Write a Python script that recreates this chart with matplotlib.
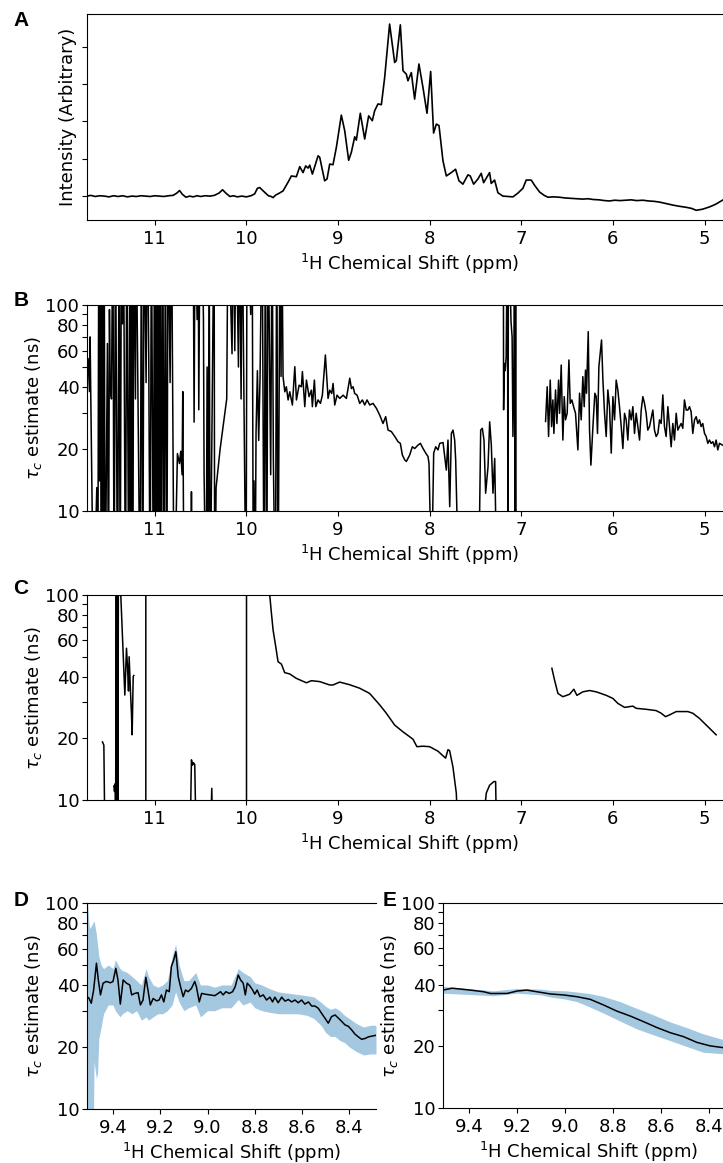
import numpy as np
import matplotlib
matplotlib.use("Agg")
import matplotlib.pyplot as plt
from matplotlib.ticker import FixedLocator, NullFormatter

nan = np.nan

# ---- Panel A: 1D spectrum (ppm, intensity)
a_ppm = [11.74, 11.70, 11.65, 11.60, 11.55, 11.50, 11.45, 11.40, 11.35, 11.30, 11.25, 11.20,
         11.15, 11.10, 11.05, 11.00, 10.95, 10.90, 10.85, 10.80, 10.76, 10.73, 10.70, 10.66,
         10.62, 10.58, 10.54, 10.50, 10.45, 10.40, 10.35, 10.30, 10.26, 10.22, 10.18, 10.14,
         10.10, 10.05, 10.00, 9.95, 9.91, 9.88, 9.855, 9.83, 9.80, 9.76, 9.73, 9.709, 9.68,
         9.64, 9.600, 9.546, 9.509, 9.455, 9.418, 9.382, 9.353, 9.327, 9.309, 9.280, 9.218,
         9.200, 9.146, 9.120, 9.091, 9.055, 9.018, 8.964, 8.927, 8.884, 8.855, 8.818, 8.800,
         8.757, 8.709, 8.666, 8.626, 8.600, 8.564, 8.527, 8.491, 8.437, 8.382, 8.364, 8.320,
         8.291, 8.255, 8.237, 8.200, 8.164, 8.117, 8.073, 8.029, 7.989, 7.957, 7.927, 7.898,
         7.855, 7.818, 7.764, 7.717, 7.680, 7.637, 7.582, 7.557, 7.520, 7.473, 7.437, 7.411,
         7.346, 7.328, 7.291, 7.255, 7.200, 7.150, 7.091, 7.037, 6.982, 6.946, 6.891, 6.855,
         6.800, 6.750, 6.709, 6.650, 6.582, 6.520, 6.450, 6.400, 6.330, 6.270, 6.218, 6.150,
         6.090, 6.037, 5.980, 5.920, 5.855, 5.800, 5.740, 5.673, 5.610, 5.550, 5.491, 5.420,
         5.346, 5.280, 5.200, 5.140, 5.091, 5.020, 4.946, 4.880, 4.804]
a_int = [0.00, 0.02, -0.01, 0.01, 0.00, -0.02, 0.01, -0.01, 0.01, -0.02, 0.00, -0.01,
         0.01, 0.00, -0.01, 0.01, 0.00, -0.01, 0.01, 0.02, 0.08, 0.15, 0.05, -0.03,
         0.00, -0.02, 0.01, -0.01, 0.01, 0.00, 0.02, 0.08, 0.17, 0.07, -0.01, 0.01,
         -0.02, 0.00, -0.02, 0.01, 0.06, 0.21, 0.23, 0.17, 0.10, 0.01, -0.01, -0.04, 0.03,
         0.08, 0.14, 0.37, 0.54, 0.52, 0.79, 0.63, 0.81, 0.75, 0.83, 0.59, 1.08,
         1.04, 0.41, 0.46, 0.86, 0.84, 1.31, 2.17, 1.75, 0.96, 1.17, 1.59, 1.50,
         2.22, 1.53, 2.15, 2.02, 2.29, 2.47, 2.45, 3.18, 4.61, 3.58, 3.63, 4.59,
         3.36, 3.27, 3.09, 3.31, 2.60, 3.54, 2.91, 2.22, 3.34, 1.69, 1.93, 1.89,
         0.95, 0.54, 0.63, 0.72, 0.41, 0.32, 0.57, 0.54, 0.32, 0.46, 0.61, 0.36,
         0.63, 0.34, 0.43, 0.09, 0.00, -0.01, -0.02, 0.08, 0.21, 0.43, 0.43, 0.29,
         0.11, 0.02, -0.03, -0.02, -0.03, -0.05, -0.06, -0.07, -0.08, -0.07, -0.09, -0.10,
         -0.12, -0.13, -0.11, -0.12, -0.11, -0.10, -0.12, -0.11, -0.13, -0.14, -0.16, -0.20,
         -0.24, -0.27, -0.30, -0.33, -0.38, -0.35, -0.29, -0.22, -0.11]

# ---- Panel B: tau_c estimate from raw spectrum (ns)
b_ppm = [11.742, 11.728, 11.713, 11.706, 11.698, 11.669, 11.633, 11.622, 11.611, 11.604, 11.593,
         11.586, 11.575, 11.564, 11.553, 11.542, 11.517, 11.506, 11.495, 11.487, 11.473, 11.458,
         11.444, 11.429, 11.407, 11.389, 11.378, 11.364, 11.353, 11.342, 11.320, 11.306, 11.284,
         11.273, 11.262, 11.251, 11.240, 11.229, 11.211, 11.204, 11.160, 11.146, 11.131, 11.117,
         11.095, 11.080, 11.066, 11.051, 11.037, 11.015, 11.004, 10.993, 10.982, 10.971, 10.960,
         10.949, 10.938, 10.927, 10.913, 10.898, 10.884, 10.869, 10.855, 10.833, 10.818, 10.789,
         10.753, 10.731, 10.717, 10.702, 10.695, 10.680, nan,
         10.607, 10.600, 10.593, nan,
         10.582, 10.571, 10.560, 10.538, 10.527, 10.520, 10.506, 10.487, 10.469, 10.462, 10.440,
         10.429, 10.418, 10.407, 10.396, 10.353, 10.346, 10.331, 10.287, 10.244, 10.215, 10.200,
         10.157, 10.142, 10.127, 10.113, 10.087, 10.077, 10.058, 10.047, 10.004, 9.993, 9.953,
         9.938, 9.924, 9.917, 9.906, 9.895, 9.880, 9.866, 9.851, 9.829, 9.807, 9.793, 9.778,
         9.764, 9.735, 9.720, 9.706, 9.684, 9.669, 9.655, 9.633, 9.622, 9.615,
         9.600, 9.581, 9.564, 9.545, 9.527, 9.498, 9.472, 9.454, 9.425, 9.400, 9.389, 9.363,
         9.345, 9.316, 9.291, 9.280, 9.258, 9.243, 9.218, 9.192, 9.171, 9.156, 9.138, 9.120,
         9.109, 9.091, 9.069, 9.054, 9.036, 9.011, 8.981, 8.945, 8.909, 8.872, 8.854, 8.836,
         8.818, 8.792, 8.763, 8.734, 8.709, 8.683, 8.654, 8.618, 8.581, 8.545, 8.509, 8.480,
         8.454, 8.418, 8.381, 8.345, 8.320, 8.298, 8.272, 8.254, 8.218, 8.189, 8.163, 8.127,
         8.101, 8.072, 8.043, 8.018, 8.007, 7.992, 7.970, 7.956, 7.934, 7.909, 7.890, 7.854,
         7.836, 7.818, 7.800, 7.781, 7.763, 7.745, 7.727, 7.716, 7.691, 7.461, 7.443, 7.425,
         7.407, 7.389, 7.363, 7.345, 7.327, 7.309, 7.290, 7.272, nan,
         7.196, 7.193, 7.185, 7.175, 7.165, 7.150, 7.146, 7.140, 7.112, 7.100, 7.091, 7.080,
         7.073, 7.068, 7.062, 7.056, nan,
         6.735, 6.717, 6.702, 6.684, 6.669, 6.655, 6.644, 6.626, 6.611, 6.593, 6.582, 6.564,
         6.546, 6.531, 6.517, 6.499, 6.480, 6.466, 6.448, 6.429, 6.408, 6.382, 6.364, 6.346,
         6.328, 6.313, 6.299, 6.288, 6.269, 6.255, 6.240, 6.218, 6.197, 6.182, 6.168, 6.153,
         6.139, 6.124, 6.109, 6.091, 6.073, 6.055, 6.037, 6.018, 6.000, 5.982, 5.964, 5.946,
         5.928, 5.909, 5.891, 5.873, 5.855, 5.837, 5.819, 5.800, 5.782, 5.764, 5.746, 5.728,
         5.709, 5.691, 5.673, 5.655, 5.637, 5.619, 5.600, 5.564, 5.546, 5.528, 5.509, 5.491,
         5.473, 5.455, 5.437, 5.419, 5.400, 5.382, 5.364, 5.346, 5.328, 5.309, 5.291, 5.273,
         5.255, 5.237, 5.219, 5.200, 5.182, 5.164, 5.146, 5.128, 5.109, 5.091, 5.073, 5.055,
         5.037, 5.019, 5.000, 4.982, 4.964, 4.946, 4.928, 4.909, 4.891, 4.873, 4.855, 4.837,
         4.804]
b_tau = [48, 55, 38, 70, 34, 3, 13, 3, 300, 14, 300,
         3, 300, 3, 300, 3, 65, 3, 95, 40, 35, 300,
         3, 300, 3, 300, 3, 300, 81, 300, 3, 300, 3,
         300, 3, 300, 3, 300, 35, 300, 3, 300, 3, 300,
         42, 300, 55, 3, 300, 3, 300, 3, 300, 3, 300,
         3, 300, 3, 300, 3, 300, 3, 300, 42, 300, 3,
         19, 17, 19.5, 15, 38, 3, nan,
         3, 12.4, 3, nan,
         300, 27, 300, 85, 300, 31, 300, 300, 85, 15, 3,
         50, 3, 300, 3, 300, 3, 13, 20, 28, 35, 300,
         58, 300, 60, 300, 50, 300, 35, 300, 3, 300, 90,
         300, 3, 14, 3, 24, 48, 22, 45, 300, 3, 300, 3,
         300, 15, 300, 18, 3, 300, 3, 300, 45, 300,
         44.9, 37.9, 40.1, 34.6, 37.9, 32.7, 50.2, 34.6, 40.8, 40.1, 47.5, 32.1,
         43.2, 35.9, 38.6, 32.1, 43.2, 32.1, 34.6, 33.3, 36.5, 44.9, 57.2, 42.4,
         35.2, 38.6, 37.2, 41.6, 32.7, 36.5, 35.2, 36.5, 35.2, 44.1, 39.3, 40.1,
         37.2, 36.5, 33.3, 34.6, 32.7, 34.6, 32.7, 33.3, 31.5, 29.2, 26.6, 28.7,
         24.7, 24.3, 23.0, 21.7, 21.3, 18.7, 17.7, 17.4, 18.7, 20.5, 20.1, 20.9,
         21.3, 20.1, 19.1, 18.4, 17.0, 8, 8, 19.1, 20.5, 19.8, 21.3, 21.5,
         18.4, 15.8, 22.1, 10.5, 23.8, 24.7, 22.1, 17.7, 6, 6, 24.7, 25.2,
         22.1, 12.2, 16.4, 27.1, 20.9, 12.2, 18.0, 6, nan,
         300, 31, 52, 48, 56, 300, 3, 300, 83, 70, 23, 50,
         300, 3, 300, 3, nan,
         27.2, 40.1, 23.0, 43.2, 25.7, 34.6, 23.8, 38.7, 26.6, 43.2, 29.8, 51.1,
         22.1, 35.9, 27.7, 29.8, 54.1, 33.3, 34.6, 32.1, 29.8, 19.8, 37.3, 27.7,
         44.9, 32.1, 48.3, 37.3, 74.2, 24.7, 16.7, 25.7, 37.3, 35.9, 23.8, 50.2,
         58.3, 67.6, 43.2, 29.8, 23.0, 38.7, 32.1, 19.1, 35.9, 27.7, 43.2, 38.7,
         32.1, 25.7, 20.1, 29.8, 27.7, 22.1, 30.9, 27.7, 32.1, 23.8, 29.8, 25.7,
         22.1, 30.9, 35.9, 33.3, 29.8, 24.7, 25.7, 30.9, 24.7, 23.0, 23.8, 27.7,
         26.6, 36.6, 25.7, 23.0, 32.1, 25.7, 20.5, 26.6, 22.1, 29.8, 24.7, 25.7,
         26.6, 25.2, 34.6, 30.9, 30.9, 32.1, 30.3, 23.8, 27.7, 28.7, 26.6, 27.7,
         25.7, 26.6, 23.8, 23.0, 21.3, 22.1, 21.3, 21.7, 20.5, 22.1, 19.8, 21.3,
         20.9]

# ---- Panel C: tau_c estimate from smoothed spectrum (ns)
c_ppm = [11.571, 11.556, 11.542, nan,
         11.447, 11.440, 11.432, 11.428, 11.420, 11.414, 11.408, 11.402, 11.396, 11.375,
         11.327, 11.309, 11.298, 11.287, 11.280, 11.265, 11.255, 11.247, 11.236, 11.229, nan,
         11.098, 11.098, nan,
         10.618, 10.600, 10.588, 10.578, 10.564, 10.545, nan,
         10.400, 10.378, 10.364, nan,
         9.999, 9.999, nan,
         9.750, 9.727, 9.709, 9.680, 9.655, 9.618, 9.582, 9.527, 9.455, 9.345, 9.291, 9.200,
         9.091, 9.055, 8.982, 8.873, 8.764, 8.655, 8.545, 8.473, 8.382, 8.291, 8.182, 8.139,
         8.073, 8.000, 7.909, 7.826, 7.800, 7.782, 7.746, 7.709, 7.698, nan,
         7.411, 7.382, 7.346, 7.299, 7.280, 7.273, nan,
         6.666, 6.637, 6.600, 6.546, 6.473, 6.426, 6.393, 6.328, 6.255, 6.182, 6.073, 6.000,
         5.946, 5.873, 5.782, 5.746, 5.637, 5.528, 5.473, 5.426, 5.382, 5.309, 5.182, 5.128,
         5.055, 4.964, 4.873]
c_tau = [19.2, 18.5, 5, nan,
         11.7, 11.0, 12.0, 5, 500, 5, 500, 5, 500, 110,
         32.5, 55, 44.7, 34, 50, 33.5, 26.5, 20.8, 39.9, 40.5, nan,
         5, 500, nan,
         5, 15.7, 14.8, 15.2, 14.9, 5, nan,
         5, 11.4, 5, nan,
         5, 500, nan,
         105, 81.5, 67.5, 56, 47.3, 46, 41.8, 41.2, 39.2, 37.3, 38.2, 37.8,
         36.4, 36.4, 37.6, 36.5, 35.1, 33.1, 29.1, 26.5, 23.2, 21.5, 19.8, 18.2,
         18.3, 18.2, 17.3, 16.0, 17.6, 17.4, 14.5, 10.8, 8, nan,
         8, 10.8, 11.8, 12.3, 12.3, 8, nan,
         43.9, 38.5, 33.1, 31.9, 32.8, 34.7, 32.4, 33.7, 34.2, 33.7, 32.4, 31.3,
         29.6, 28.3, 28.7, 28.0, 27.7, 27.3, 26.5, 25.5, 26.0, 27.0, 27.0, 26.5,
         25.0, 22.8, 20.8]

# ---- Panel D: zoomed estimate with uncertainty band
d_ppm = [9.510, 9.501, 9.492, 9.482, 9.470, 9.462, 9.453, 9.442, 9.428, 9.411, 9.400, 9.388,
         9.379, 9.369, 9.357, 9.343, 9.329, 9.321, 9.308, 9.294, 9.284, 9.273, 9.261, 9.252,
         9.242, 9.230, 9.216, 9.205, 9.195, 9.185, 9.174, 9.162, 9.153, 9.143, 9.134, 9.124,
         9.114, 9.103, 9.093, 9.082, 9.068, 9.054, 9.047, 9.035, 9.025, 9.011, 8.990, 8.969,
         8.955, 8.945, 8.934, 8.922, 8.908, 8.894, 8.883, 8.870, 8.860, 8.849, 8.840, 8.832,
         8.821, 8.809, 8.800, 8.790, 8.778, 8.764, 8.750, 8.736, 8.725, 8.715, 8.701, 8.686,
         8.672, 8.658, 8.644, 8.630, 8.616, 8.602, 8.588, 8.573, 8.559, 8.545, 8.531, 8.517,
         8.503, 8.489, 8.475, 8.460, 8.446, 8.432, 8.418, 8.404, 8.390, 8.376, 8.362, 8.348,
         8.333, 8.319, 8.287]
d_tau = [35.1, 34.4, 32.6, 37.8, 51.0, 42.3, 35.8, 40.8, 41.6, 41.0, 41.6, 48.2,
         42.3, 32.3, 42.3, 40.8, 40.0, 35.8, 36.4, 36.7, 32.0, 33.8, 43.6, 37.8,
         32.0, 34.4, 33.5, 33.8, 35.8, 33.1, 37.8, 37.1, 49.1, 52.9, 58.0, 43.9,
         39.2, 35.1, 37.8, 37.1, 38.5, 41.6, 39.2, 33.1, 36.4, 36.1, 35.8, 35.5,
         36.4, 37.1, 35.8, 37.1, 36.4, 37.1, 39.2, 44.7, 42.3, 40.8, 35.8, 40.8,
         39.6, 37.8, 36.1, 37.8, 35.1, 35.8, 33.8, 34.9, 33.1, 34.9, 32.8, 34.9,
         33.4, 34.0, 33.1, 33.8, 32.8, 33.8, 32.3, 33.1, 31.6, 31.6, 30.8, 29.1,
         27.6, 26.1, 28.1, 28.6, 27.6, 26.6, 25.6, 25.2, 24.2, 23.1, 22.4, 21.8,
         22.0, 22.4, 22.8]
d_band_ppm = [9.510, 9.500, 9.490, 9.485, 9.480, 9.470, 9.465, 9.460, 9.450, 9.440, 9.420,
              9.400, 9.390, 9.370, 9.360, 9.340, 9.320, 9.300, 9.280, 9.260, 9.250, 9.230,
              9.210, 9.190, 9.170, 9.150, 9.135, 9.120, 9.100, 9.080, 9.050, 9.030, 9.000,
              8.970, 8.940, 8.900, 8.870, 8.850, 8.820, 8.800, 8.770, 8.740, 8.700, 8.660,
              8.620, 8.580, 8.550, 8.520, 8.500, 8.480, 8.460, 8.440, 8.420, 8.400, 8.370,
              8.340, 8.310, 8.287]
d_upper = [110, 75, 78, 80, 82, 70, 62, 55, 50, 48, 50,
           48, 53, 48, 47, 46, 44, 42, 40, 48, 44, 40,
           39, 40, 42, 55, 63, 50, 42, 42, 46, 40, 40,
           39, 40, 40, 48, 46, 44, 41, 40, 38.5, 37, 36.5,
           36, 35.5, 35, 33, 31.5, 30.5, 31, 30, 28.5, 27.5, 26,
           25, 25.5, 25.5]
d_lower = [5, 5, 5, 5, 17, 14, 15, 22, 25, 29, 32,
           32, 30, 28, 29, 30, 29, 30, 27, 28, 27, 28,
           29, 29, 30, 32, 37, 33, 30, 31, 32, 28, 30,
           30, 31, 31, 34, 32, 33, 31, 30, 29.5, 29, 29,
           29, 28.5, 27.5, 25.5, 23.5, 22.5, 22.5, 21.5, 21, 20, 19,
           18.3, 18.5, 18.5]

# ---- Panel E: smoothed zoom with uncertainty band
e_ppm = [9.510, 9.472, 9.396, 9.340, 9.312, 9.243, 9.201, 9.160, 9.118, 9.062, 9.007, 8.951,
         8.896, 8.840, 8.785, 8.729, 8.674, 8.618, 8.562, 8.507, 8.451, 8.396, 8.300]
e_tau = [37.6, 38.4, 37.6, 36.9, 36.2, 36.2, 37.2, 37.6, 36.9, 36.0, 35.6, 34.9,
         33.9, 31.8, 29.7, 28.1, 26.4, 24.7, 23.3, 22.3, 20.9, 20.1, 19.4]
e_band_ppm = [9.510, 9.300, 9.200, 9.100, 9.062, 9.000, 8.951, 8.900, 8.840, 8.770, 8.701,
              8.630, 8.562, 8.490, 8.424, 8.342, 8.300]
e_upper = [39.2, 37.3, 38.3, 38.0, 37.5, 37.3, 36.8, 36.2, 35.0, 33.0, 30.6,
           28.4, 26.3, 24.6, 23.0, 21.6, 21.2]
e_lower = [36.3, 35.3, 36.3, 35.6, 34.8, 34.0, 33.0, 31.2, 29.0, 26.5, 24.3,
           22.7, 21.3, 19.9, 18.7, 18.4, 18.3]

W, H = 723, 1163
plt.rcParams['font.family'] = 'DejaVu Sans'
plt.rcParams['font.size'] = 13
fig = plt.figure(figsize=(W / 100, H / 100), dpi=100)


def rect(left, top, right, bottom):
    return [left / W, 1 - bottom / H, (right - left) / W, (bottom - top) / H]


xlab = r'$^{1}$H Chemical Shift (ppm)'
tlab = r'$\tau_c$ estimate (ns)'


def log_axis(ax):
    ax.set_yscale('log')
    ax.set_ylim(10, 100)
    ax.yaxis.set_major_locator(FixedLocator([10, 20, 40, 60, 80, 100]))
    ax.yaxis.set_minor_locator(FixedLocator([30, 50, 70, 90]))
    ax.yaxis.set_minor_formatter(NullFormatter())
    ax.set_yticklabels(['10', '20', '40', '60', '80', '100'])
    ax.tick_params(axis='y', which='minor', length=3.5, width=0.8)
    ax.tick_params(axis='y', which='major', pad=2)
    ax.set_ylabel(tlab, labelpad=1)


def wide_x(ax):
    ax.set_xlim(11.74, 4.70)
    ax.set_xticks([11, 10, 9, 8, 7, 6, 5])
    ax.set_xlabel(xlab, labelpad=3)
    ax.spines['right'].set_visible(False)


# A
axA = fig.add_axes(rect(87, 14, 732, 220))
axA.plot(a_ppm, a_int, color='k', lw=1.2)
wide_x(axA)
axA.set_ylim(-0.64, 4.88)
axA.set_yticks([0, 1, 2, 3, 4])
axA.tick_params(axis='y', labelleft=False)
axA.set_ylabel('Intensity (Arbitrary)')

# B
axB = fig.add_axes(rect(87, 305, 732, 511))
axB.plot(b_ppm, b_tau, color='k', lw=1.1)
wide_x(axB)
log_axis(axB)

# C
axC = fig.add_axes(rect(87, 595, 732, 800))
axC.plot(c_ppm, c_tau, color='k', lw=1.1)
wide_x(axC)
log_axis(axC)

# D
axD = fig.add_axes(rect(87, 903, 376, 1109))
axD.fill_between(d_band_ppm, d_lower, d_upper, color='C0', alpha=0.4, lw=0)
axD.plot(d_ppm, d_tau, color='k', lw=1.1)
axD.set_xlim(9.51, 8.287)
axD.set_xticks([9.4, 9.2, 9.0, 8.8, 8.6, 8.4])
axD.set_xticklabels(['9.4', '9.2', '9.0', '8.8', '8.6', '8.4'])
axD.set_xlabel(xlab, labelpad=3)
axD.spines['right'].set_visible(False)
log_axis(axD)

# E
axE = fig.add_axes(rect(443, 903, 733, 1108))
axE.fill_between(e_band_ppm, e_lower, e_upper, color='C0', alpha=0.4, lw=0)
axE.plot(e_ppm, e_tau, color='k', lw=1.1)
axE.set_xlim(9.51, 8.30)
axE.set_xticks([9.4, 9.2, 9.0, 8.8, 8.6, 8.4])
axE.set_xticklabels(['9.4', '9.2', '9.0', '8.8', '8.6', '8.4'])
axE.set_xlabel(xlab, labelpad=3)
axE.spines['right'].set_visible(False)
log_axis(axE)

for lbl, x, y in [('A', 21, 21), ('B', 21, 300), ('C', 21, 588), ('D', 21, 901), ('E', 390, 901)]:
    fig.text(x / W, 1 - y / H, lbl, fontsize=15, fontweight='bold', family='Liberation Sans',
             ha='center', va='center')

fig.savefig('out.png', dpi=100)
